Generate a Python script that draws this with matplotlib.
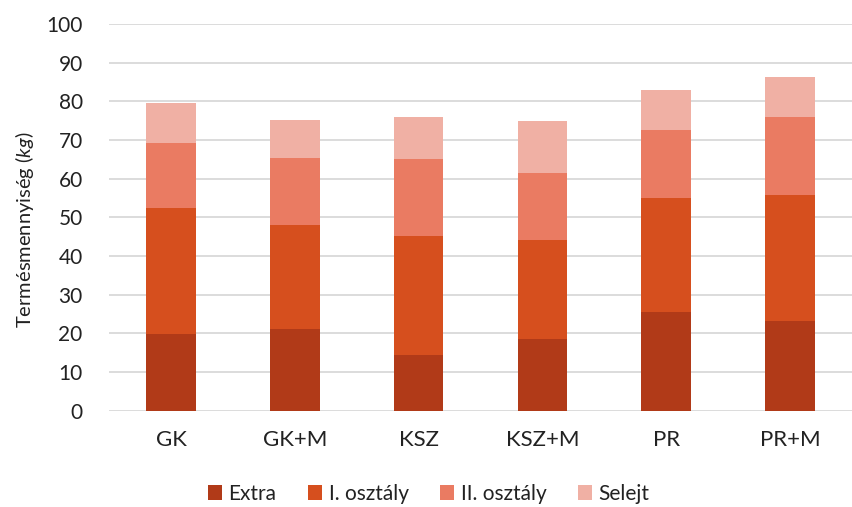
import numpy as np
import matplotlib
matplotlib.use("Agg")
import matplotlib.pyplot as plt

plt.rcParams['font.family'] = ['Lato', 'DejaVu Sans']
plt.rcParams['mathtext.fontset'] = 'custom'
plt.rcParams['mathtext.rm'] = 'Lato'
plt.rcParams['mathtext.it'] = 'Lato:italic'

categories = ['GK', 'GK+M', 'KSZ', 'KSZ+M', 'PR', 'PR+M']
series = ['Extra', 'I. osztály', 'II. osztály', 'Selejt']
# cumulative tops of each class
extra = [19.7, 21.2, 14.3, 18.4, 25.5, 23.2]
first_top = [52.4, 48.1, 45.1, 44.1, 55.0, 55.8]
second_top = [69.1, 65.4, 65.0, 61.5, 72.5, 76.0]
total = [79.5, 75.2, 75.8, 74.9, 82.9, 86.2]

first = np.array(first_top) - np.array(extra)
second = np.array(second_top) - np.array(first_top)
reject = np.array(total) - np.array(second_top)
values = [np.array(extra), first, second, reject]
colors = ['#B13A18', '#D64F1E', '#EA7B62', '#F0B0A4']

fig = plt.figure(figsize=(8.52, 5.07), dpi=100)
ax = fig.add_axes([0.128, 0.19, 0.872, 0.763])

x = np.arange(len(categories))
bottom = np.zeros(len(categories))
for name, vals, c in zip(series, values, colors):
    ax.bar(x, vals, 0.4, bottom=bottom, color=c, label=name, zorder=3)
    bottom += vals

ax.set_ylim(0, 100)
ax.set_xlim(-0.5, len(categories) - 0.5)
ax.set_yticks(np.arange(0, 101, 10))
ax.set_xticks(x)
ax.set_xticklabels(categories)
ax.grid(axis='y', color='#D9D9D9', linewidth=1.3, zorder=0)
for s in ax.spines.values():
    s.set_visible(False)
ax.tick_params(axis='both', length=0, colors='#222222')
ax.tick_params(axis='y', pad=19, labelsize=15)
ax.tick_params(axis='x', pad=14, labelsize=16)
ax.set_ylabel('Termésmennyiség ($kg$)', fontsize=14.5, color='#222222')
ax.yaxis.set_label_coords(-0.099, 0.467)

ax.legend(loc='center', bbox_to_anchor=(0.43, -0.215), ncol=4, frameon=False,
          fontsize=15, handlelength=0.7, handleheight=0.7, handletextpad=0.3,
          columnspacing=1.5, labelcolor='#222222')

fig.savefig('out.png', dpi=100)
